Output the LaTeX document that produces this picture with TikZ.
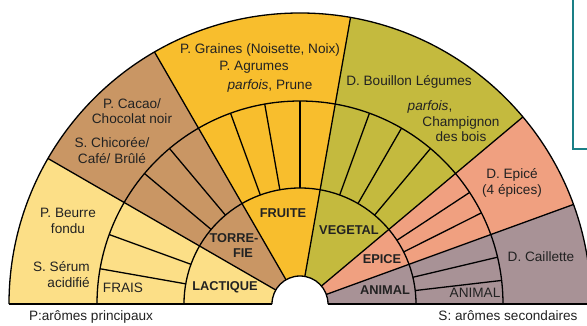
\documentclass[tikz,border=0pt]{standalone}
\usepackage{fontspec}
\setmainfont{Liberation Sans}
\definecolor{cYel}{HTML}{FCDF87}
\definecolor{cBrn}{HTML}{C99664}
\definecolor{cOrg}{HTML}{F8BE2D}
\definecolor{cGrn}{HTML}{C4BA3E}
\definecolor{cSal}{HTML}{F0A080}
\definecolor{cMau}{HTML}{A89296}
\definecolor{txt}{HTML}{222222}
\definecolor{teal}{HTML}{1A7F86}
\newcommand{\wedgefill}[3]{\fill[#3] (#1:28) -- (#1:291) arc[start angle=#1,end angle=#2,radius=291] -- (#2:28) arc[start angle=#2,end angle=#1,radius=28] -- cycle;}
\begin{document}
\begin{tikzpicture}[x=1pt,y=1pt,
  lbl/.style={font=\fontsize{13.6}{15}\selectfont, text=txt, inner sep=0pt},
  cat/.style={font=\fontsize{12.8}{14}\selectfont\bfseries, text=txt, inner sep=0pt},
  edge/.style={line width=1.3pt, draw=black, line join=round}]
\useasboundingbox (-300,-21) rectangle (287,304);
\clip (-300,-21) rectangle (287,304);
\fill[white] (-300,-21) rectangle (287,304);
% coloured wedges
\wedgefill{180}{150}{cYel}
\wedgefill{150}{120}{cBrn}
\wedgefill{120}{80}{cOrg}
\wedgefill{80}{40}{cGrn}
\wedgefill{40}{20}{cSal}
\wedgefill{20}{0}{cMau}
% arcs
\draw[edge] (180:291) arc[start angle=180,end angle=0,radius=291];
\draw[edge] (180:203) arc[start angle=180,end angle=0,radius=203];
\draw[edge] (180:116) arc[start angle=180,end angle=0,radius=116];
\draw[edge] (180:28) arc[start angle=180,end angle=0,radius=28];
\draw[edge] (-291,0) -- (-28,0) (28,0) -- (291,0);
% main radial boundaries
\foreach \a in {150,120,80,40,20} \draw[edge] (\a:28) -- (\a:291);
% spokes in middle ring
\foreach \a in {170,160,140,130,110,100,90,70,60,50,33.33,26.67,13.33,6.67}
  \draw[edge] (\a:116) -- (\a:203);
% teal frame (cut off)
\draw[teal, line width=1.8pt] (273,310) -- (273,155) -- (300,155);
% outer texts
\node[lbl] (graines) at (-40,254) {P. Graines (Noisette, Noix)};
\node[lbl] (agrumes) at (-46,237) {P. Agrumes};
\node[lbl] (prune) at (-30,218) {\textit{parfois},~Prune};
\node[lbl, align=center, font=\fontsize{13.6}{15}\selectfont] (cacao) at (-168,192.5) {P. Cacao/\\Chocolat noir};
\node[lbl, align=center, font=\fontsize{13.6}{16}\selectfont] (chicoree) at (-188,153) {S. Chicorée/\\Café/ Brûlé};
\node[lbl] (bouillon) at (109,222) {D. Bouillon Légumes};
\node[lbl] (parfois) at (130,197) {\textit{parfois},};
\node[lbl, align=center, font=\fontsize{13.6}{15}\selectfont] (champ) at (161,174.5) {Champignon\\des bois};
\node[lbl, align=center, font=\fontsize{13.6}{16}\selectfont] (epiced) at (212,121) {D. Epicé\\(4 épices)};
\node[lbl] (caillette) at (241,47) {D. Caillette};
\node[lbl, align=center, font=\fontsize{13.6}{16}\selectfont] (beurre) at (-232,83) {P. Beurre\\fondu};
\node[lbl, align=right, font=\fontsize{13.6}{16}\selectfont, anchor=east] (serum) at (-210,29) {S. Sérum\\acidifié};
% category labels
\node[lbl] (frais) at (-177,16) {FRAIS};
\node[cat] (lactique) at (-75,17) {LACTIQUE};
\node[cat] (torre) at (-66,66) {TORRE-};
\node[cat] (fie) at (-57,51) {FIE};
\node[cat] (fruite) at (-17,91) {FRUITE};
\node[cat] (vegetal) at (49,74) {VEGETAL};
\node[cat] (epice) at (82,45) {EPICE};
\node[cat] (animal) at (85,14) {ANIMAL};
\node[lbl] (animal2) at (175,11) {ANIMAL};
% legend
\node[lbl] (legp) at (-209,-13) {P:arômes principaux};
\node[lbl] (legs) at (208,-12) {S: arômes secondaires};
\end{tikzpicture}
\end{document}
